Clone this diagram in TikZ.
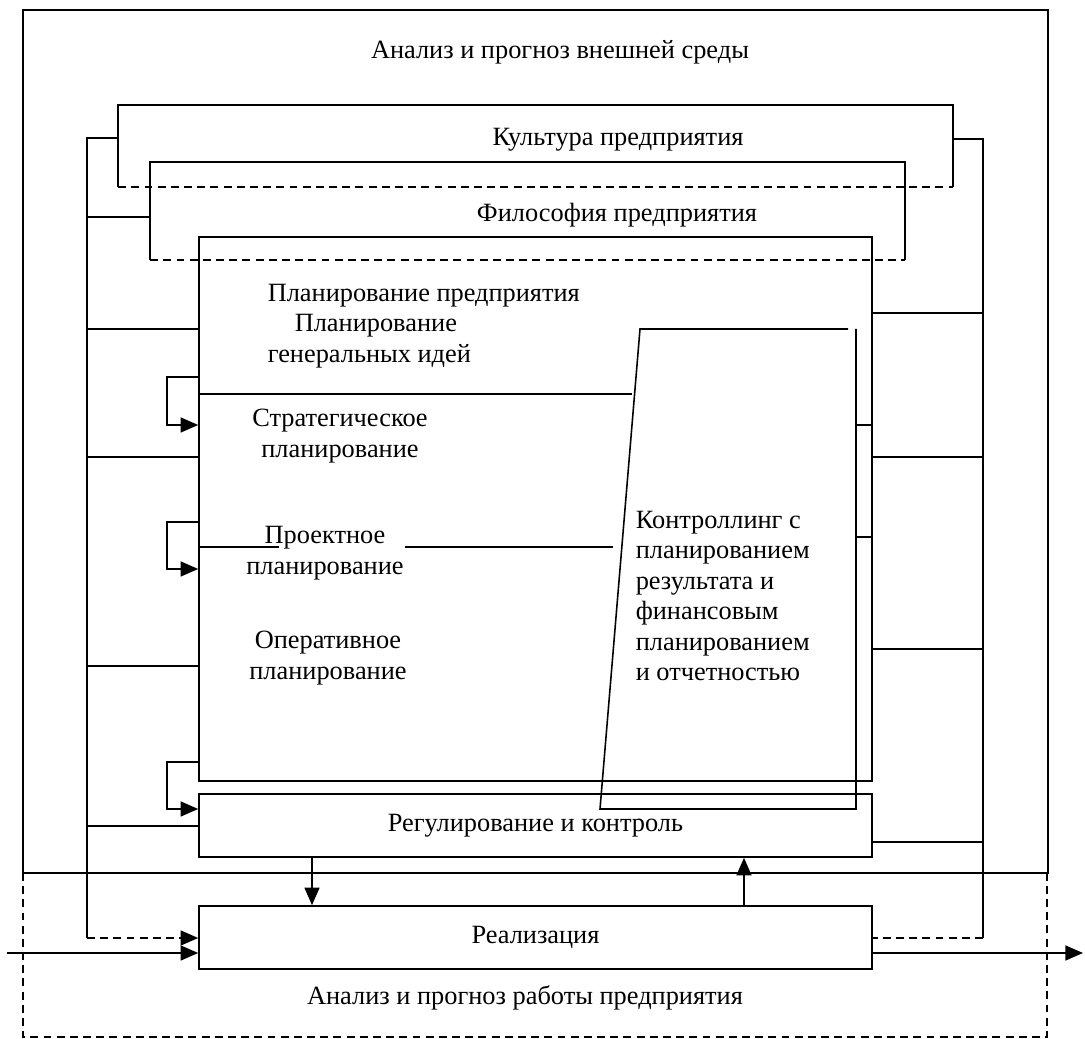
\documentclass[tikz,border=0pt]{standalone}
\usepackage{fontspec}
\setmainfont{Liberation Serif}
\usetikzlibrary{positioning, calc, arrows.meta}
\tikzset{every picture/.append style={line width=0.9pt}}
\tikzset{
  blk/.style={draw, rectangle, minimum width=13.46cm, minimum height=1.26cm, inner sep=0pt, font=\fontsize{15}{17.3}\selectfont},
  frm/.style={rectangle, inner sep=0pt},
  lbl/.style={inner sep=0pt, font=\fontsize{15}{17.3}\selectfont},
  dsh/.style={dash pattern=on 4.5pt off 3pt},
  arr/.style={-{Triangle[length=10pt, width=8.5pt]}}
}

\begin{document}
\begin{tikzpicture}
        \useasboundingbox (0,0) rectangle (21.7,20.78);

        % ==========================================
        % OUTER FRAMES: Environment & Enterprise Analysis
        % ==========================================
        \draw (0.46,3.32) rectangle (20.96,20.58);
        \draw[dsh] (0.46,3.32) -- (0.46,0.04) -- (20.94,0.04) -- (20.94,3.32);
        \node[lbl] (envT) at (11.2,19.74) {Анализ и прогноз внешней среды};
        \node[lbl] (anaT) at (10.5,0.82) {Анализ и прогноз работы предприятия};

        % ==========================================
        % CULTURE & PHILOSOPHY (open at the bottom)
        % ==========================================
        \node[frm, minimum width=16.66cm, minimum height=1.6cm] (cult) at (10.71,17.86) {};
        \node[frm, minimum width=15.06cm, minimum height=1.92cm] (phil) at (10.55,16.56) {};

        \draw (cult.south west) -- (cult.north west) -- (cult.north east) -- (cult.south east);
        \draw[dsh] (cult.south west) -- (cult.south east);
        \draw (phil.south west) -- (phil.north west) -- (phil.north east) -- (phil.south east);
        \draw[dsh] (phil.south west) -- (phil.south east);

        \node[lbl] (cultT) at (12.36,17.98) {Культура предприятия};
        \node[lbl] (philT) at (12.34,16.48) {Философия предприятия};

        % ==========================================
        % MAIN BLOCKS
        % ==========================================
        \node[blk, minimum height=10.88cm] (plan) at (10.71,10.6) {};
        \node[blk] (reg) at (10.71,4.27) {Регулирование и контроль};
        \node[blk] (real) at (10.71,2.03) {Реализация};

        % 1. Planning texts
        \node[lbl, anchor=west, align=left] (planT) at (5.34,14.26) {Планирование предприятия\\\hspace*{0.54cm}Планирование\\генеральных идей};
        \node[lbl, align=center] (stratT) at (6.8,12.06) {Стратегическое\\планирование};
        \node[lbl, align=center] (projT) at (6.5,9.72) {Проектное\\планирование};
        \node[lbl, align=center] (operT) at (6.56,7.62) {Оперативное\\планирование};

        % 2. Dividing lines
        \draw (plan.west |- 0,12.9) -- (12.64,12.9);
        \draw (plan.west |- 0,9.84) -- (5.58,9.84);
        \draw (8.1,9.84) -- (12.26,9.84);

        % 3. Controlling block
        \coordinate (ctlA) at (16.96,14.2);
        \coordinate (ctlB) at (12.8,14.2);
        \coordinate (ctlC) at (12.0,4.6);
        \coordinate (ctlD) at (17.12,4.6);
        \coordinate (ctlE) at (17.12,14.2);
        \draw (ctlA) -- (ctlB) -- (ctlC) -- (ctlD) -- (ctlE);
        \foreach \y in {12.28, 10.04}
            \draw (17.12,\y) -- (plan.east |- 0,\y);
        \node[lbl, anchor=west, align=left] (ctlT) at (12.7,8.86) {Контроллинг с\\планированием\\результата и\\финансовым\\планированием\\и отчетностью};

        % 4. Feedback loops
        \foreach \ya/\yb in {13.24/12.28, 10.34/9.4}
            \draw[arr] (plan.west |- 0,\ya) -| (3.34,\yb) -- (plan.west |- 0,\yb);
        \draw[arr] (plan.west |- 0,5.54) -| (3.34,4.6) -- (reg.west |- 0,4.6);

        % ==========================================
        % LEFT & RIGHT BUSES
        % ==========================================
        \coordinate (busL) at (1.74,18.02);
        \coordinate (busLb) at (1.74,2.02);
        \coordinate (busR) at (19.66,18.0);
        \coordinate (busRb) at (19.66,2.02);

        \draw (busLb) -- (busL) -- (busL -| cult.west);
        \draw (busL |- 0,16.44) -- (phil.west |- 0,16.44);
        \foreach \y in {14.2, 11.64, 7.46}
            \draw (busL |- 0,\y) -- (plan.west |- 0,\y);
        \draw (busL |- 0,4.26) -- (reg.west |- 0,4.26);
        \draw[dsh, arr] (busLb) -- (real.west |- busLb);

        \draw (busRb) -- (busR) -- (busR -| cult.east);
        \foreach \y in {14.52, 11.64, 7.8}
            \draw (busR |- 0,\y) -- (plan.east |- 0,\y);
        \draw (busR |- 0,3.94) -- (reg.east |- 0,3.94);
        \draw[dsh] (busRb) -- (real.east |- busRb);

        % ==========================================
        % FLOWS: Regulation <-> Realization, In & Out
        % ==========================================
        \draw[arr] (reg.south -| 6.24,0) -- (real.north -| 6.24,0);
        \draw[arr] (real.north -| 14.88,0) -- (reg.south -| 14.88,0);

        \coordinate (inp) at (0.14,1.72);
        \coordinate (outp) at (21.66,1.72);
        \draw[arr] (inp) -- (real.west |- inp);
        \draw[arr] (real.east |- outp) -- (outp);

\end{tikzpicture}
\end{document}
